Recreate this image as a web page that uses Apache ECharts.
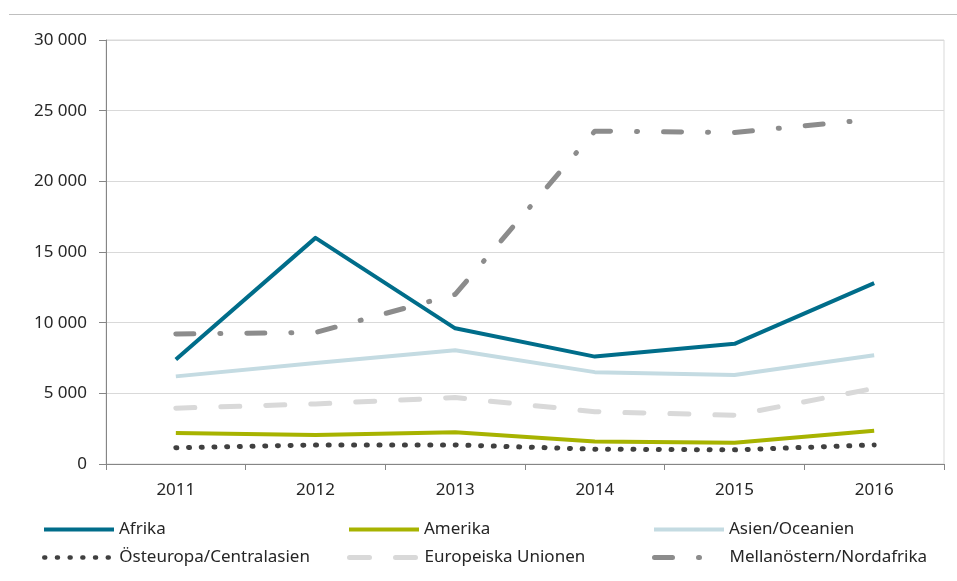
<!DOCTYPE html>
<html>
<head>
<meta charset="utf-8">
<script src="https://cdn.jsdelivr.net/npm/echarts@6/dist/echarts.min.js"></script>
<style>
  html, body { margin: 0; padding: 0; background: #fff; }
  #chart { width: 957px; height: 581px; }
</style>
</head>
<body>
<div id="chart"></div>
<script>
// år på x-axeln
var years = ['2011', '2012', '2013', '2014', '2015', '2016'];

// värden per region
var afrika = [7400, 16000, 9600, 7600, 8500, 12800];
var amerika = [2200, 2050, 2250, 1600, 1500, 2350];
var asien = [6200, 7150, 8050, 6500, 6300, 7700];
var osteuropa = [1150, 1350, 1350, 1050, 1000, 1350];
var eu = [3950, 4250, 4700, 3700, 3450, 5350];
var mellanostern = [9200, 9300, 12000, 23550, 23450, 24400];

var yTicks = { min: 0, max: 30000, step: 5000 };

var font = '"Noto Sans", sans-serif';

function fmt(v) {
  return String(v).replace(/\B(?=(\d{3})+(?!\d))/g, ' ');
}

var myChart = echarts.init(document.getElementById('chart'));

function mkSeries(name, data, color, width, type, cap) {
  return {
    name: name,
    type: 'line',
    data: data,
    symbol: 'none',
    showSymbol: false,
    animation: false,
    lineStyle: { color: color, width: width, type: type, cap: cap || 'butt', join: 'round' },
    itemStyle: { color: color }
  };
}

function mkLegend(name, left, top, width, type, cap) {
  return {
    data: [name],
    left: left,
    top: top,
    itemWidth: 70,
    itemHeight: 14,
    itemGap: 0,
    padding: 0,
    itemStyle: { color: 'transparent', borderWidth: 0, opacity: 0 },
    lineStyle: { width: width, type: type, cap: cap || 'butt' },
    textStyle: { fontFamily: font, fontSize: 17, color: '#262626', padding: [0, 0, 0, 0] },
    selectedMode: false
  };
}

var option = {
  backgroundColor: '#fff',
  animation: false,
  graphic: [{
    type: 'line',
    shape: { x1: 9, y1: 14.5, x2: 957, y2: 14.5 },
    style: { stroke: '#bfbfbf', lineWidth: 1 }
  }],
  grid: {
    left: 106, right: 13, top: 40, bottom: 117,
    show: true, borderColor: '#d9d9d9', borderWidth: 1
  },
  legend: [
    mkLegend('Afrika', 42, 521, 4, 'solid'),
    mkLegend('Amerika', 347, 521, 4, 'solid'),
    mkLegend('Asien/Oceanien', 652, 521, 4, 'solid'),
    mkLegend('Östeuropa/Centralasien', 42, 549, 4.5, [1, 11.7], 'round'),
    mkLegend('Europeiska Unionen', 347, 549, 5, [20, 26], 'round'),
    mkLegend('Mellanöstern/Nordafrika', 652, 549, 5, [18, 26, 1, 30], 'round')
  ],
  xAxis: {
    type: 'category',
    data: years,
    boundaryGap: true,
    axisLine: { lineStyle: { color: '#868686', width: 1 } },
    axisTick: { show: true, length: 6, lineStyle: { color: '#868686' } },
    axisLabel: { fontFamily: font, fontSize: 17, color: '#262626', margin: 18 },
    splitLine: { show: false }
  },
  yAxis: {
    type: 'value',
    min: yTicks.min,
    max: yTicks.max,
    interval: yTicks.step,
    axisLine: { show: true, lineStyle: { color: '#868686', width: 1 } },
    axisTick: { show: true, length: 7, lineStyle: { color: '#868686' } },
    axisLabel: { fontFamily: font, fontSize: 17, color: '#262626', margin: 19, formatter: fmt },
    splitLine: { lineStyle: { color: '#d9d9d9', width: 1 } }
  },
  series: [
    mkSeries('Afrika', afrika, '#006d8a', 4, 'solid'),
    mkSeries('Amerika', amerika, '#a7b300', 4, 'solid'),
    mkSeries('Asien/Oceanien', asien, '#c4dbe2', 4, 'solid'),
    mkSeries('Östeuropa/Centralasien', osteuropa, '#404040', 5, [1, 11.7], 'round'),
    mkSeries('Europeiska Unionen', eu, '#d9d9d9', 5, [19, 26], 'round'),
    mkSeries('Mellanöstern/Nordafrika', mellanostern, '#8c8c8c', 5, [18, 26, 1, 26], 'round')
  ]
};

myChart.setOption(option);
</script>
</body>
</html>
